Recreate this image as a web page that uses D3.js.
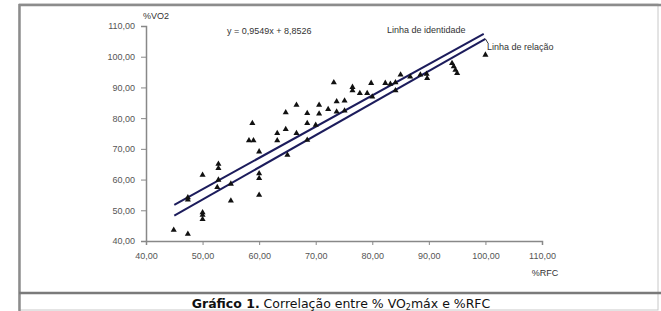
<!DOCTYPE html>
<html>
<head>
<meta charset="utf-8">
<script src="https://cdn.jsdelivr.net/npm/d3@7"></script>
<style>
  body { margin: 0; background: #fff; }
  svg { display: block; }
  .tick text { font-family: "Liberation Sans", Arial, sans-serif; font-size: 9px; fill: #555; }
  .lbl { font-family: "Liberation Sans", Arial, sans-serif; font-size: 9px; fill: #333; }
</style>
</head>
<body>
<svg id="chart" width="661" height="311"></svg>
<script>
// valores (%RFC x %VO2)
const rfc = [44.9, 47.4, 47.4, 47.4, 50, 50, 50, 50, 52.8, 52.8, 52.8, 52.6, 55, 55,
  60, 60, 60, 60, 58.8, 58.2, 59, 63.2, 63.2, 64.7, 64.7, 65, 66.6, 66.6, 68.5, 68.5,
  68.5, 70, 70.6, 70.6, 72.2, 73.7, 73.7, 73.2, 75.1, 75.1, 76.5, 76.5, 77.8, 79.1,
  79.8, 80, 82.3, 83.2, 84.1, 84.1, 85, 86.7, 88.5, 89.6, 89.7, 94.1, 94.4, 94.7,
  95, 100];
const vo2 = [43.6, 42.3, 54.2, 53.4, 61.5, 49.3, 48.5, 47.1, 65.1, 63.7, 59.9, 57.5, 53.1, 58.6,
  69.1, 62, 60.4, 55, 78.3, 72.7, 72.7, 75.1, 72.7, 81.8, 76.4, 68, 84.3, 75.1, 81.6, 78.3,
  72.9, 77.8, 84.3, 81.4, 82.9, 85.4, 82.1, 91.6, 85.7, 82.4, 90.1, 89, 88.1, 88.1,
  91.4, 87, 91.4, 91.1, 91.6, 89, 94.1, 93.5, 94.1, 94.4, 93, 97.9, 96.8, 95.7,
  94.6, 100.6];

// linhas desenhadas no gráfico (pontos extremos)
const identidadeX = [45, 99.7];
const identidadeY = [51.8, 107.4];
const relacaoX = [45, 100];
const relacaoY = [48.3, 105.8];

const xTicks = [40, 50, 60, 70, 80, 90, 100, 110];
const yTicks = [40, 50, 60, 70, 80, 90, 100, 110];

const svg = d3.select('#chart');
const fmt = d3.formatLocale({decimal: ',', thousands: '.', grouping: [3], currency: ['', '']}).format('.2f');

const x = d3.scaleLinear().domain([40, 110]).range([146, 542]);
const y = d3.scaleLinear().domain([40, 110]).range([241, 26]);

// moldura
svg.append('rect').attr('x', 19).attr('y', 4).attr('width', 639).attr('height', 306)
  .attr('fill', 'none').attr('stroke', '#c8c8c8').attr('stroke-width', 1);
svg.append('line').attr('x1', 19).attr('x2', 661).attr('y1', 5).attr('y2', 5)
  .attr('stroke', '#8c8c8c').attr('stroke-width', 2.5);
svg.append('line').attr('x1', 19.5).attr('x2', 19.5).attr('y1', 4).attr('y2', 311)
  .attr('stroke', '#8c8c8c').attr('stroke-width', 2.5);
svg.append('line').attr('x1', 19).attr('x2', 661).attr('y1', 293).attr('y2', 293)
  .attr('stroke', '#7a7a7a').attr('stroke-width', 2.5);

// eixos
const xAxis = svg.append('g').attr('transform', 'translate(0,241)')
  .call(d3.axisBottom(x).tickValues(xTicks).tickFormat(fmt).tickSize(4).tickPadding(8));
const yAxis = svg.append('g').attr('transform', 'translate(146,0)')
  .call(d3.axisLeft(y).tickValues(yTicks).tickFormat(fmt).tickSize(5).tickPadding(6));
[xAxis, yAxis].forEach(g => {
  g.select('.domain').attr('stroke', '#888').attr('stroke-width', 1.5);
  g.selectAll('.tick line').attr('stroke', '#888');
});

// linhas
const line = d3.line().x(d => x(d[0])).y(d => y(d[1]));
svg.append('path').attr('d', line(d3.zip(identidadeX, identidadeY)))
  .attr('fill', 'none').attr('stroke', '#1c1c5c').attr('stroke-width', 2);
svg.append('path').attr('d', line(d3.zip(relacaoX, relacaoY)))
  .attr('fill', 'none').attr('stroke', '#1c1c5c').attr('stroke-width', 2);
// ligação do rótulo "Linha de relação"
svg.append('line')
  .attr('x1', x(relacaoX[1])).attr('y1', y(relacaoY[1]))
  .attr('x2', x(relacaoX[1]) + 3).attr('y2', y(relacaoY[1]) + 5)
  .attr('stroke', '#333').attr('stroke-width', 1);

// pontos
const tri = d3.symbol().type(d3.symbolTriangle).size(16);
svg.append('g').selectAll('path')
  .data(d3.zip(rfc, vo2))
  .enter()
  .append('path')
  .attr('d', tri)
  .attr('transform', d => `translate(${x(d[0])},${y(d[1])})`)
  .attr('fill', '#111');

// textos
svg.append('text').attr('class', 'lbl').attr('x', 143).attr('y', 19).text('%VO2');
svg.append('text').attr('class', 'lbl').attr('x', 545).attr('y', 276).attr('text-anchor', 'middle').text('%RFC');
svg.append('text').attr('class', 'lbl').attr('x', 227).attr('y', 34).text('y = 0,9549x + 8,8526');
svg.append('text').attr('class', 'lbl').attr('x', 387).attr('y', 33).text('Linha de identidade');
svg.append('text').attr('class', 'lbl').attr('x', 487).attr('y', 50).text('Linha de relação');

const cap = svg.append('text').attr('x', 341).attr('y', 308).attr('text-anchor', 'middle')
  .style('font-family', '"DejaVu Sans", Verdana, sans-serif').style('font-size', '12.5px').attr('fill', '#111');
cap.append('tspan').attr('font-weight', 'bold').text('Gráfico 1.');
cap.append('tspan').text(' Correlação entre % VO');
cap.append('tspan').attr('font-size', '8px').attr('dy', 2).text('2');
cap.append('tspan').attr('dy', -2).text('máx e %RFC');
</script>
</body>
</html>
